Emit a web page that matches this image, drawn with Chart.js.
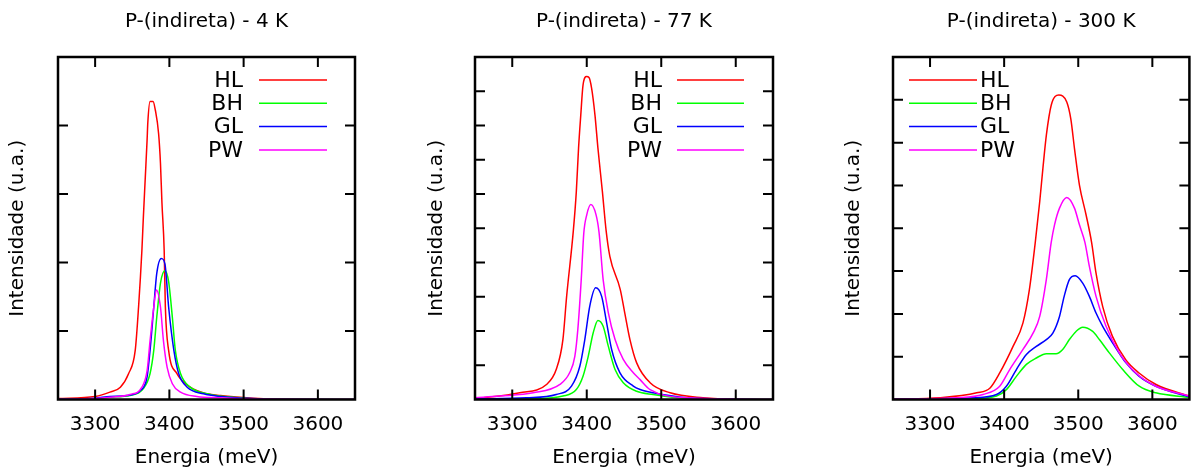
<!DOCTYPE html>
<html>
<head>
<meta charset="utf-8">
<script src="https://cdn.jsdelivr.net/npm/chart.js@4.4.1/dist/chart.umd.min.js"></script>
<style>
  body { margin: 0; background: #fff; }
  #wrap { position: relative; width: 1191px; height: 473px; overflow: hidden; }
  canvas { position: absolute; top: 0; }
</style>
</head>
<body>
<div id="wrap">
  <canvas id="p4" width="400" height="473" style="left:0px"></canvas>
  <canvas id="p77" width="400" height="473" style="left:420px"></canvas>
  <canvas id="p300" width="351" height="473" style="left:840px"></canvas>
</div>
<script>
// nomes e cores das series
const nomes = ['HL', 'BH', 'GL', 'PW'];
const cores = ['#ff0000', '#00ff00', '#0000ff', '#ff00ff'];
const titulos = ['P-(indireta) - 4 K', 'P-(indireta) - 77 K', 'P-(indireta) - 300 K'];
const xTicks = [3300, 3400, 3500, 3600];
const yMax = [5, 10, 8];

// 4 K
const e4HL = [3250, 3300, 3320, 3334, 3345, 3354, 3358.5, 3363, 3365, 3367.6, 3370, 3371, 3374, 3378, 3381, 3385.5, 3388, 3390, 3393, 3394.6, 3399, 3410, 3428, 3451, 3469, 3500, 3532, 3650];
const i4HL = [0.015, 0.044, 0.107, 0.18, 0.376, 0.716, 1.35, 2.18, 2.67, 3.25, 3.79, 4.05, 4.35, 4.35, 4.23, 3.88, 3.45, 2.87, 2.18, 1.35, 0.716, 0.38, 0.18, 0.083, 0.058, 0.03, 0.01, 0];
const e4BH = [3250, 3300, 3320, 3347, 3365, 3374, 3379, 3383, 3388, 3394, 3399, 3404, 3408, 3415, 3428, 3451, 3500, 3532, 3650];
const i4BH = [0, 0.007, 0.034, 0.058, 0.16, 0.38, 0.72, 1.2, 1.70, 1.88, 1.72, 1.2, 0.72, 0.38, 0.18, 0.083, 0.02, 0.005, 0];
const e4GL = [3250, 3300, 3320, 3343, 3361, 3370, 3374, 3379, 3383, 3389, 3394, 3399, 3406, 3412.6, 3424, 3446, 3469, 3500, 3530, 3650];
const i4GL = [0.005, 0.02, 0.044, 0.058, 0.13, 0.33, 0.72, 1.35, 1.84, 2.06, 1.98, 1.35, 0.72, 0.376, 0.18, 0.083, 0.044, 0.02, 0.005, 0];
const e4PW = [3250, 3300, 3320, 3347, 3363, 3370, 3374, 3379, 3382.5, 3388, 3392, 3397, 3404, 3415, 3437, 3469, 3500, 3650];
const i4PW = [0.005, 0.015, 0.034, 0.073, 0.18, 0.42, 0.86, 1.35, 1.60, 1.35, 0.86, 0.47, 0.23, 0.107, 0.044, 0.025, 0.01, 0];

// 77 K
const e77HL = [3250, 3310, 3346, 3359, 3368, 3373, 3382, 3386, 3389, 3392, 3395, 3399.7, 3403, 3406.5, 3411, 3415, 3421, 3426, 3431, 3445, 3451, 3458, 3467, 3485, 3512, 3556, 3602, 3650];
const i77HL = [0.02, 0.195, 0.44, 0.875, 1.75, 3.01, 4.93, 6.07, 7.34, 8.31, 9.18, 9.43, 9.40, 9.09, 8.31, 7.34, 6.07, 4.93, 4.18, 3.21, 2.53, 1.75, 1.07, 0.49, 0.195, 0.05, 0.005, 0];
const e77BH = [3250, 3328, 3368, 3386, 3395, 3402, 3408.6, 3415, 3422, 3429, 3438, 3449, 3467, 3489, 3534.5, 3600, 3650];
const i77BH = [0.005, 0.02, 0.1, 0.29, 0.68, 1.26, 1.94, 2.31, 2.14, 1.55, 0.875, 0.49, 0.24, 0.146, 0.03, 0.005, 0];
const e77GL = [3250, 3319, 3359, 3379.5, 3390.7, 3397.4, 3404, 3412, 3420, 3426.7, 3433.4, 3444.6, 3462.5, 3471.6, 3489, 3534.5, 3600, 3650];
const i77GL = [0.02, 0.05, 0.146, 0.39, 0.97, 1.75, 2.72, 3.26, 3.01, 2.24, 1.46, 0.78, 0.39, 0.29, 0.195, 0.05, 0.01, 0];
const e77PW = [3250, 3283, 3328, 3364, 3377, 3384, 3388, 3392.6, 3396, 3400, 3405.5, 3412.5, 3416.5, 3422, 3429, 3438, 3449, 3462.5, 3471.6, 3485, 3534.5, 3600, 3650];
const i77PW = [0.05, 0.1, 0.195, 0.44, 0.78, 1.26, 2.04, 3.50, 4.85, 5.39, 5.69, 5.39, 4.88, 3.50, 2.53, 1.75, 1.17, 0.78, 0.58, 0.29, 0.05, 0.01, 0];

// 300 K
const e300HL = [3250, 3313, 3363, 3381, 3394, 3412, 3425.4, 3434, 3442, 3448, 3452.3, 3457, 3463.6, 3473.8, 3484.5, 3490, 3495, 3501.6, 3510.6, 3518, 3524, 3533, 3546, 3564, 3582, 3605, 3650];
const i300HL = [0.01, 0.04, 0.156, 0.27, 0.62, 1.24, 1.79, 2.56, 3.67, 4.62, 5.40, 6.18, 6.88, 7.11, 6.95, 6.55, 5.85, 5.01, 4.31, 3.67, 2.95, 2.17, 1.48, 0.93, 0.62, 0.35, 0.08];
const e300BH = [3250, 3358, 3389.7, 3403, 3416.5, 3430, 3443.4, 3457, 3470, 3479, 3488, 3497, 3506, 3519.5, 3528.5, 3541.9, 3560, 3582.3, 3604.7, 3650];
const i300BH = [0, 0.016, 0.08, 0.23, 0.54, 0.82, 0.97, 1.07, 1.07, 1.17, 1.40, 1.59, 1.69, 1.59, 1.40, 1.09, 0.70, 0.31, 0.156, 0.05];
const e300GL = [3250, 3358, 3389.7, 3403, 3416.5, 3430, 3443.4, 3456.9, 3465.7, 3474.7, 3481, 3488, 3495.9, 3506, 3515, 3524, 3533, 3546.5, 3564.4, 3582.3, 3604.7, 3650];
const i300GL = [0.005, 0.04, 0.117, 0.31, 0.70, 1.05, 1.24, 1.40, 1.55, 1.94, 2.41, 2.80, 2.89, 2.72, 2.41, 2.02, 1.71, 1.32, 0.855, 0.54, 0.31, 0.06];
const e300PW = [3250, 3336, 3371.6, 3394, 3407.5, 3425.4, 3439, 3448, 3456.9, 3463.5, 3468, 3474.7, 3484.5, 3494.9, 3501.6, 3509, 3515, 3524, 3537.5, 3555.4, 3577.8, 3604.7, 3650];
const i300PW = [0.005, 0.04, 0.117, 0.31, 0.70, 1.17, 1.55, 1.94, 2.80, 3.67, 4.08, 4.47, 4.72, 4.47, 4.08, 3.67, 3.11, 2.41, 1.71, 1.09, 0.62, 0.31, 0.08];

Chart.defaults.font.family = '"DejaVu Sans", sans-serif';
Chart.defaults.font.size = 20;
Chart.defaults.color = '#000';

function pontos(e, i) {
    return e.map((v, k) => ({ x: v, y: i[k] }));
}

// moldura e marcas para dentro, estilo gnuplot
const moldura = {
    id: 'moldura',
    afterDatasetsDraw(chart) {
        const { ctx, chartArea: a, scales } = chart;
        ctx.save();
        ctx.strokeStyle = '#000';
        ctx.lineWidth = 2;
        ctx.beginPath();
        scales.x.ticks.forEach(t => {
            const px = scales.x.getPixelForValue(t.value);
            if (px < a.left + 2 || px > a.right - 2) return;
            ctx.moveTo(px, a.bottom); ctx.lineTo(px, a.bottom - 10);
            ctx.moveTo(px, a.top); ctx.lineTo(px, a.top + 10);
        });
        scales.y.ticks.forEach(t => {
            const py = scales.y.getPixelForValue(t.value);
            if (py < a.top + 2 || py > a.bottom - 2) return;
            ctx.moveTo(a.left, py); ctx.lineTo(a.left + 10, py);
            ctx.moveTo(a.right, py); ctx.lineTo(a.right - 10, py);
        });
        ctx.stroke();
        ctx.lineWidth = 2.5;
        ctx.strokeRect(a.left, a.top, a.width, a.height);
        ctx.restore();
    }
};

// legenda: texto e amostra de linha
const chave = {
    id: 'chave',
    afterDatasetsDraw(chart, args, o) {
        const ctx = chart.ctx;
        ctx.save();
        ctx.font = '22px "DejaVu Sans"';
        ctx.textBaseline = 'middle';
        chart.data.datasets.forEach((ds, k) => {
            const y = o.top + k * o.step;
            ctx.fillStyle = '#000';
            ctx.textAlign = o.textLeft ? 'left' : 'right';
            ctx.fillText(ds.label, o.textX, y + 1);
            ctx.strokeStyle = ds.borderColor;
            ctx.lineWidth = 1.5;
            ctx.beginPath();
            ctx.moveTo(o.x1, y);
            ctx.lineTo(o.x2, y);
            ctx.stroke();
        });
        ctx.restore();
    }
};

function painel(id, n, series, cfg) {
    return new Chart(document.getElementById(id).getContext('2d'), {
        type: 'line',
        data: {
            datasets: series.map((s, k) => ({
                label: nomes[k],
                data: pontos(s[0], s[1]),
                borderColor: cores[k],
                borderWidth: 1.5,
                pointRadius: 0,
                fill: false,
                tension: 0.4,
                cubicInterpolationMode: 'monotone',
                order: 4 - k
            }))
        },
        plugins: [moldura, chave],
        options: {
            responsive: false,
            animation: false,
            layout: { padding: { left: cfg.padL, right: cfg.padR, top: 0, bottom: 3.5 } },
            plugins: {
                legend: { display: false },
                tooltip: { enabled: false },
                title: {
                    display: true,
                    text: titulos[n],
                    fullSize: false,
                    font: { size: 20, weight: 'normal' },
                    padding: { top: 10, bottom: 23 }
                },
                chave: cfg.chave
            },
            scales: {
                x: {
                    type: 'linear',
                    min: 3250,
                    max: 3650,
                    ticks: { padding: 13, maxRotation: 0, autoSkip: false, callback: v => String(v) },
                    afterBuildTicks: sc => { sc.ticks = xTicks.map(v => ({ value: v })); },
                    afterFit: sc => { sc.height = 70; },
                    grid: { display: false, drawTicks: false },
                    border: { display: false },
                    title: { display: true, text: 'Energia (meV)', padding: 0, font: { size: 20 } }
                },
                y: {
                    min: 0,
                    max: yMax[n],
                    ticks: { stepSize: 1, display: false },
                    afterFit: sc => { sc.width = cfg.chartL - cfg.padL; },
                    grid: { display: false, drawTicks: false },
                    border: { display: false },
                    title: { display: true, text: 'Intensidade (u.a.)', padding: 0, font: { size: 20 } }
                }
            }
        }
    });
}

painel('p4', 0, [[e4HL, i4HL], [e4BH, i4BH], [e4GL, i4GL], [e4PW, i4PW]], {
    padL: 5.5, padR: 45, chartL: 58,
    chave: { top: 80, step: 23.3, textX: 243, x1: 259, x2: 327, textLeft: false }
});
painel('p77', 1, [[e77HL, i77HL], [e77BH, i77BH], [e77GL, i77GL], [e77PW, i77PW]], {
    padL: 4.5, padR: 47, chartL: 55,
    chave: { top: 80, step: 23.3, textX: 242, x1: 257, x2: 324, textLeft: false }
});
painel('p300', 2, [[e300HL, i300HL], [e300BH, i300BH], [e300GL, i300GL], [e300PW, i300PW]], {
    padL: 2, padR: 1, chartL: 53,
    chave: { top: 80, step: 23.3, textX: 140, x1: 69, x2: 137, textLeft: true }
});
</script>
</body>
</html>
